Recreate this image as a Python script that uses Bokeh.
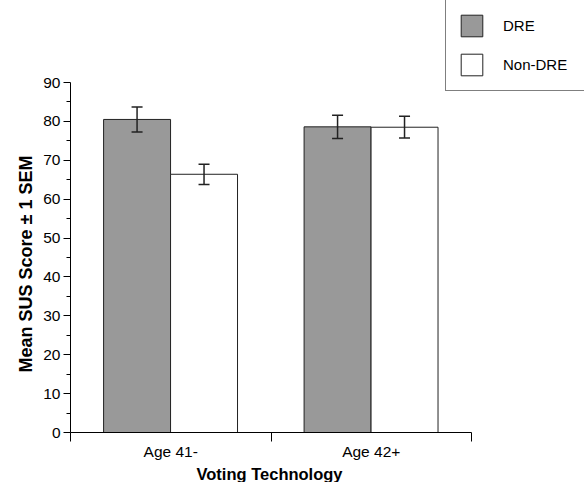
from bokeh.plotting import figure
from bokeh.models import Range1d, FixedTicker, ColumnDataSource, Whisker, TeeHead, Legend, LegendItem, Title
from bokeh.transform import dodge
from bokeh.embed import file_html
from bokeh.resources import INLINE

categories = ["Age 41-", "Age 42+"]
dre_mean = [80.5, 78.6]
dre_sem = [3.2, 3.0]
nondre_mean = [66.4, 78.5]
nondre_sem = [2.6, 2.8]
series_names = ["DRE", "Non-DRE"]
y_ticks = list(range(0, 91, 10))
y_top = 90
x_title = "Voting Technology"
y_title = "Mean SUS Score \u00b1 1 SEM"

FONT = "Liberation Sans"

# layout (pixels)
AX_W, AX_H = 401, 350           # visible axes extent
FR_W, FR_H = 514, 432           # frame extends above/right of the axes to host the legend

idx = list(range(len(categories)))
src_dre = ColumnDataSource(dict(idx=idx, top=dre_mean,
                                upper=[m + s for m, s in zip(dre_mean, dre_sem)],
                                lower=[m - s for m, s in zip(dre_mean, dre_sem)]))
src_non = ColumnDataSource(dict(idx=idx, top=nondre_mean,
                                upper=[m + s for m, s in zip(nondre_mean, nondre_sem)],
                                lower=[m - s for m, s in zip(nondre_mean, nondre_sem)]))

ncat = len(categories)
p = figure(frame_width=FR_W, frame_height=FR_H,
           x_range=Range1d(0, ncat * FR_W / AX_W), y_range=Range1d(0, y_top * FR_H / AX_H),
           output_backend="svg", toolbar_location=None,
           min_border_left=70, min_border_right=0, min_border_top=0, min_border_bottom=50)
p.outline_line_color = None
p.xgrid.visible = False
p.ygrid.visible = False

w = 0.334
r1 = p.vbar(x=dodge("idx", 0.332), top="top", bottom=0, width=w, source=src_dre,
            fill_color="#999999", line_color="#222222", line_width=1)
r2 = p.vbar(x=dodge("idx", 0.666), top="top", bottom=0, width=w, source=src_non,
            fill_color="white", line_color="#222222", line_width=1)

for src, off in ((src_dre, 0.332), (src_non, 0.666)):
    wh = Whisker(base=dodge("idx", off), upper="upper", lower="lower", source=src,
                 line_color="#222222", line_width=1.5, level="overlay",
                 upper_head=TeeHead(size=11, line_color="#222222", line_width=1.5),
                 lower_head=TeeHead(size=11, line_color="#222222", line_width=1.5))
    p.add_layout(wh)

# x axis
xa = p.xaxis[0]
xa.bounds = (0, ncat)
xa.ticker = FixedTicker(ticks=[i + 0.5 for i in idx], minor_ticks=list(range(ncat + 1)))
xa.major_label_overrides = {i + 0.5: c for i, c in zip(idx, categories)}
xa.major_tick_out = 0
xa.major_tick_in = 0
xa.minor_tick_out = 9
xa.minor_tick_in = 0
xa.major_label_standoff = 1
xa.major_label_text_font = FONT
xa.major_label_text_font_size = "15.5px"
xa.major_label_text_color = "black"
xa.axis_line_color = "black"
xa.minor_tick_line_color = "black"

# y axis
ya = p.yaxis[0]
ya.bounds = (0, y_top)
ya.ticker = FixedTicker(ticks=y_ticks, minor_ticks=[t + 5 for t in y_ticks[:-1]])
ya.major_tick_out = 7
ya.major_tick_in = 0
ya.minor_tick_out = 4
ya.minor_tick_in = 0
ya.major_label_standoff = 3
ya.major_label_text_font = FONT
ya.major_label_text_font_size = "15.5px"
ya.major_label_text_color = "black"
ya.axis_line_color = "black"
ya.major_tick_line_color = "black"
ya.minor_tick_line_color = "black"

# axis titles, positioned along the visible axes rather than the (larger) frame
p.add_layout(Title(text=x_title, align="left", offset=126,
                   text_font=FONT, text_font_style="bold", text_font_size="16.5px",
                   text_color="black", standoff=0), "below")
p.add_layout(Title(text=y_title, align="left", offset=60,
                   text_font=FONT, text_font_style="bold", text_font_size="18px",
                   text_color="black", standoff=10), "left")

legend = Legend(items=[LegendItem(label=series_names[0], renderers=[r1]),
                       LegendItem(label=series_names[1], renderers=[r2])],
                location=(375, FR_H - 91), orientation="vertical",
                border_line_color="black", border_line_width=1,
                background_fill_color="white", background_fill_alpha=1,
                glyph_width=27, glyph_height=27, label_height=27, label_width=69,
                label_standoff=18, spacing=12, padding=12, margin=0,
                label_text_font=FONT, label_text_font_size="15px", label_text_color="black")
p.add_layout(legend, "center")

open("out.html", "w").write(file_html(p, INLINE))
